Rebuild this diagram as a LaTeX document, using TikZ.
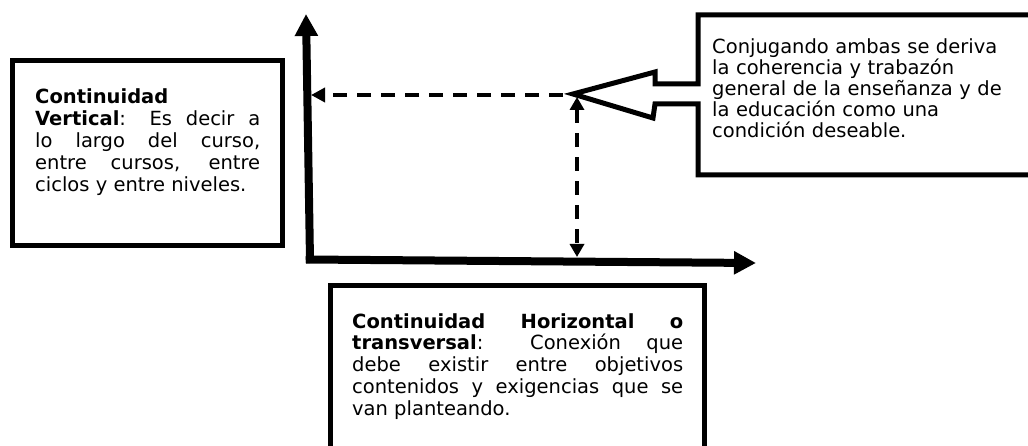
\documentclass[tikz,border=0pt]{standalone}
\usepackage{fontspec}
\setmainfont{DejaVu Sans}
\usetikzlibrary{arrows.meta}
\tikzset{
  boxline/.style={line width=5pt, line join=miter},
  axis/.style={line width=8pt, -{Triangle[length=22pt,width=22pt]}},
  dashconn/.style={line width=4pt, dash pattern=on 14pt off 10pt},
  txt/.style={anchor=base west, inner sep=0pt, align=justify, font=\fontsize{19.5}{21.8}\selectfont},
}
\begin{document}
\begin{tikzpicture}[x=1pt,y=-1pt]
\useasboundingbox (0,0) rectangle (1028,446);
\clip (0,0) rectangle (1028,446);
% left box
\node[boxline, draw, minimum width=270pt, minimum height=185pt, anchor=north west, inner sep=0pt] (lbox) at (10,58) {};
\node[txt, text width=225pt] (ltext) at (35,104) {\textbf{Continuidad}\\
\textbf{Vertical}: Es decir a\linebreak lo largo del curso,\linebreak entre cursos, entre\linebreak ciclos y entre niveles.};
% bottom box
\node[boxline, draw, minimum width=374pt, minimum height=200pt, anchor=north west, inner sep=0pt] (bbox) at (328,283) {};
\node[txt, text width=331pt] (btext) at (352,328) {\textbf{Continuidad Horizontal o}\linebreak \textbf{transversal}: Conexión que\linebreak debe existir entre objetivos\linebreak contenidos y exigencias que se\linebreak van planteando.};
% callout
\coordinate (tip) at (573,94);
\draw[boxline] (tip) -- (655,72) -- (655,84) -- (698,84) -- (698,15) -- (1040,15) -- (1040,175) -- (698,175) -- (698,104) -- (655,104) -- (653,118) -- cycle;
\node[txt, align=left, text width=310pt, font=\fontsize{19.5}{20.8}\selectfont] (rtext) at (712,54) {Conjugando ambas se deriva\\ la coherencia y trabazón\\ general de la enseñanza y de\\ la educación como una\\ condición deseable.};
% axes
\coordinate (origin) at (310,260);
\coordinate (ytop) at (306,14);
\coordinate (xend) at (756,263);
\draw[line width=8pt] (309.5,256) -- (310,263);
\draw[axis] (origin) -- (ytop);
\draw[axis] (306,259.5) -- (xend);
% dashed connectors
\coordinate (yhit) at (311,95);
\coordinate (xhit) at (577,257);
\coordinate (vtop) at (577,97);
\draw[dashconn, -{Triangle[length=14pt,width=14pt]}] (563,95) -- (yhit);
\draw[dashconn, {Triangle[length=13pt,width=14pt]}-{Triangle[length=13pt,width=14pt]}] (vtop) -- (xhit);
\end{tikzpicture}
\end{document}
